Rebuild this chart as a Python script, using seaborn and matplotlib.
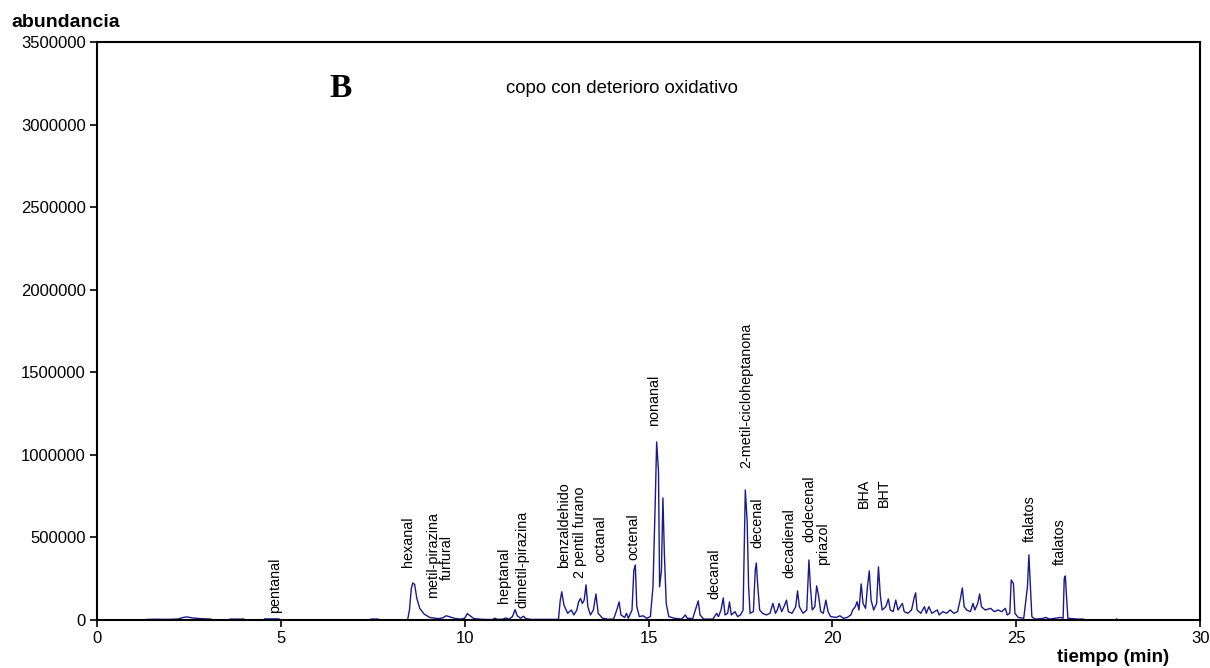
import matplotlib
matplotlib.use("Agg")
import matplotlib.pyplot as plt
import seaborn as sns
import pandas as pd

# ---- data: chromatogram trace (tiempo in min, abundancia) ----
tiempo = [
    1.3, 1.36, 1.6, 1.9, 2.2, 2.35, 2.45, 2.6, 2.8, 3.1, 3.15,
    3.6, 3.62, 4.0, 4.03, 4.54, 4.56, 4.95, 4.98, 7.42, 7.45, 7.65, 7.68,
    8.45, 8.5, 8.55, 8.59, 8.64, 8.7, 8.78, 8.9, 9.05, 9.2, 9.3, 9.4, 9.5,
    9.6, 9.75, 9.9, 10.0, 10.07, 10.15, 10.25, 10.5, 10.75, 10.82, 10.9,
    11.05, 11.12, 11.2, 11.3, 11.37, 11.43, 11.52, 11.6, 11.66, 11.8,
    12.55, 12.6, 12.64, 12.7, 12.8, 12.9, 12.97, 13.05, 13.1, 13.15, 13.2,
    13.25, 13.3, 13.35, 13.42, 13.5, 13.57, 13.63, 13.75, 13.9, 14.05,
    14.15, 14.2, 14.25, 14.35, 14.4, 14.45, 14.55, 14.6, 14.64, 14.68,
    14.75, 14.85, 14.95, 15.05, 15.12, 15.18, 15.22, 15.27, 15.3, 15.35,
    15.39, 15.43, 15.48, 15.55, 15.7, 15.9, 16.0, 16.05, 16.2, 16.3, 16.35,
    16.4, 16.5, 16.75, 16.85, 16.9, 16.97, 17.03, 17.08, 17.15, 17.2,
    17.25, 17.35, 17.42, 17.5, 17.57, 17.63, 17.68, 17.72, 17.76, 17.85,
    17.9, 17.93, 17.97, 18.02, 18.1, 18.2, 18.3, 18.38, 18.45, 18.5, 18.55,
    18.62, 18.7, 18.75, 18.8, 18.9, 19.0, 19.05, 19.1, 19.2, 19.3, 19.36,
    19.4, 19.45, 19.52, 19.57, 19.62, 19.68, 19.75, 19.82, 19.88, 19.95,
    20.1, 20.2, 20.3, 20.4, 20.5, 20.55, 20.62, 20.67, 20.72, 20.78, 20.83,
    20.9, 20.95, 21.0, 21.05, 21.12, 21.2, 21.25, 21.3, 21.35, 21.45, 21.52,
    21.57, 21.65, 21.72, 21.78, 21.9, 21.95, 22.05, 22.15, 22.22, 22.26,
    22.3, 22.4, 22.5, 22.55, 22.62, 22.7, 22.85, 22.9, 23.0, 23.1, 23.2,
    23.3, 23.4, 23.47, 23.53, 23.58, 23.65, 23.75, 23.82, 23.87, 23.95,
    24.0, 24.05, 24.15, 24.3, 24.4, 24.5, 24.6, 24.7, 24.75, 24.82, 24.86,
    24.92, 24.96, 25.05, 25.2, 25.3, 25.34, 25.38, 25.42, 25.5, 25.7, 25.8,
    25.9, 26.05, 26.2, 26.27, 26.3, 26.33, 26.36, 26.4, 26.5, 26.65, 26.8,
    26.9, 27.7, 27.72, 27.75,
]
abundancia = [
    0, 3000, 4000, 3000, 5000, 15000, 18000, 12000, 8000, 5000, 0,
    0, 5000, 5000, 0, 0, 6000, 6000, 0, 0, 5000, 5000, 0,
    0, 60000, 190000, 224000, 215000, 130000, 70000, 35000, 15000, 10000, 8000, 12000, 25000,
    18000, 8000, 5000, 10000, 38000, 25000, 8000, 3000, 2000, 10000, 3000,
    5000, 12000, 4000, 20000, 62000, 25000, 10000, 22000, 8000, 3000,
    3000, 120000, 170000, 90000, 40000, 60000, 30000, 60000, 110000, 130000, 100000,
    120000, 212000, 80000, 30000, 60000, 157000, 40000, 10000, 4000, 5000,
    70000, 109000, 30000, 15000, 40000, 10000, 60000, 300000, 333000, 80000,
    20000, 25000, 10000, 20000, 200000, 700000, 1078000, 900000, 200000, 300000,
    739000, 400000, 100000, 20000, 10000, 5000, 30000, 10000, 8000, 80000, 115000,
    30000, 5000, 5000, 40000, 20000, 60000, 133000, 30000, 40000, 109000,
    30000, 50000, 20000, 30000, 60000, 787000, 600000, 200000, 40000, 50000,
    300000, 345000, 200000, 60000, 40000, 30000, 40000, 100000, 40000, 60000, 100000,
    50000, 90000, 120000, 50000, 40000, 80000, 176000, 80000, 40000, 60000, 363000,
    200000, 60000, 80000, 206000, 150000, 50000, 40000, 120000, 50000, 20000,
    15000, 25000, 10000, 15000, 30000, 60000, 80000, 110000, 60000, 218000, 100000,
    70000, 200000, 297000, 120000, 60000, 100000, 321000, 150000, 60000, 80000, 127000,
    60000, 50000, 120000, 60000, 100000, 50000, 40000, 60000, 133000, 164000,
    60000, 40000, 80000, 40000, 80000, 40000, 60000, 30000, 50000, 40000, 60000,
    40000, 50000, 120000, 194000, 80000, 60000, 50000, 100000, 60000, 100000,
    157000, 80000, 60000, 70000, 50000, 60000, 50000, 70000, 30000, 40000, 242000,
    220000, 40000, 15000, 10000, 200000, 394000, 200000, 20000, 5000, 8000, 15000,
    5000, 10000, 15000, 10000, 250000, 266000, 150000, 10000, 8000, 5000, 5000,
    0, 0, 6000, 0,
]

# ---- peak labels: name, time, height of label foot ----
etiquetas = ["pentanal", "hexanal", "metil-pirazina", "furfural", "heptanal",
             "dimetil-pirazina", "benzaldehido", "2 pentil furano", "octanal",
             "octenal", "nonanal", "decanal", "2-metil-cicloheptanona", "decenal",
             "decadienal", "dodecenal", "priazol", "BHA", "BHT", "ftalatos", "ftalatos"]
etiqueta_t = [4.84, 8.46, 9.14, 9.52, 11.07, 11.56, 12.7, 13.14, 13.68, 14.6,
              15.15, 16.8, 17.65, 17.95, 18.82, 19.36, 19.75, 20.86, 21.4, 25.37, 26.19]
etiqueta_y = [42000, 321000, 133000, 242000, 103000, 70000, 315000, 254000, 351000,
              363000, 1175000, 127000, 920000, 436000, 254000, 472000, 333000,
              678000, 684000, 472000, 333000]

x_ticks = [0, 5, 10, 15, 20, 25, 30]
y_ticks = [0, 500000, 1000000, 1500000, 2000000, 2500000, 3000000, 3500000]

sns.set_theme(style="white")
plt.rcParams["font.family"] = ["Liberation Sans", "DejaVu Sans"]
plt.rcParams["text.color"] = "black"
plt.rcParams["xtick.color"] = "black"
plt.rcParams["ytick.color"] = "black"

fig = plt.figure(figsize=(12.1, 6.68), dpi=100)
ax = fig.add_axes([0.080, 0.072, 0.912, 0.865])

df = pd.DataFrame({"tiempo": tiempo, "abundancia": abundancia})
sns.lineplot(data=df, x="tiempo", y="abundancia", ax=ax, color="#1a1a8a",
             linewidth=1.0, sort=False, estimator=None)

ax.set_xlim(0, 30)
ax.set_ylim(0, 3500000)
ax.set_xticks(x_ticks)
ax.set_xticklabels([str(v) for v in x_ticks], fontsize=12)
ax.set_yticks(y_ticks)
ax.set_yticklabels([str(v) for v in y_ticks], fontsize=12)
ax.tick_params(axis="both", direction="out", length=5, width=1.2, color="black",
               labelcolor="black", bottom=True, left=True, pad=3)
for s in ax.spines.values():
    s.set_visible(True)
    s.set_color("black")
    s.set_linewidth(1.5)
ax.set_xlabel("")
ax.set_ylabel("")

for name, t, y in zip(etiquetas, etiqueta_t, etiqueta_y):
    ax.text(t, y, name, rotation=90, ha="center", va="bottom", fontsize=10.4,
            color="black")

ax.text(6.64, 3220000, "B", fontsize=24, fontweight="bold",
        family="Liberation Serif", ha="center", va="center", color="black")
ax.text(14.28, 3220000, "copo con deterioro oxidativo", fontsize=13.4,
        ha="center", va="center", color="black")

fig.text(0.009, 0.967, "abundancia", fontsize=14, fontweight="bold",
         ha="left", va="center", color="black")
fig.text(0.966, 0.016, "tiempo (min)", fontsize=13.5, fontweight="bold",
         ha="right", va="center", color="black")

fig.savefig("out.png", dpi=100)
